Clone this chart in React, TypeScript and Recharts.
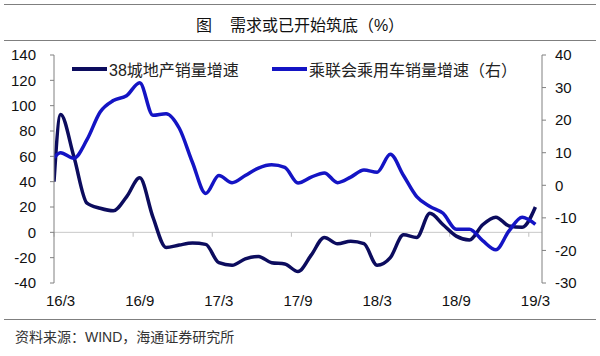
import React from "react";
import { LineChart, Line, XAxis, YAxis, ReferenceLine, Legend } from "recharts";

// month index: 0 = 16/3, 36 = 19/3
const months = [-0.5, 0, 1, 2, 3, 4, 5, 6, 7, 8, 9, 10, 11, 12, 13, 14, 15, 16, 17, 18, 19, 20, 21, 22, 23, 24, 25, 26, 27, 28, 29, 30, 31, 32, 33, 34, 35, 36];
const housing = [40, 93, 60, 23, 19, 17, 28, 43, 12, -12, -10, -8.5, -9.5, -24, -26, -21, -19, -24, -25, -31, -18, -4, -9, -7, -9, -26, -20, -2, -4, 15, 6, -3, -6, 6, 12, 5, 4, 20];
const cars = [8.5, 10, 8.3, 14, 22.5, 26, 27.5, 31.5, 21.5, 22, 17.5, 7, -2.5, 3, 0.8, 3, 5.3, 6.3, 5.5, 0.7, 2.5, 3.8, 0.8, 2.5, 4.7, 4, 9.5, 3, -3.5, -6.5, -8.6, -13.5, -13.5, -17, -19.8, -14, -9.8, -12];

const xTicks = [0, 6, 12, 18, 24, 30, 36];
const xLabels = ["16/3", "16/9", "17/3", "17/9", "18/3", "18/9", "19/3"];
const boundaryTicks = [-0.5, 5.5, 11.5, 17.5, 23.5, 29.5, 35.5];
const leftTicks = [-40, -20, 0, 20, 40, 60, 80, 100, 120, 140];
const rightTicks = [-30, -20, -10, 0, 10, 20, 30, 40];

const seriesNames = ["38城地产销量增速", "乘联会乘用车销量增速（右）"];
const DARK = "#0c0c5e";
const BLUE = "#1414c4";

const data = months.map((m, i) => ({ m, house: housing[i], car: cars[i] }));

const FONT = '"Liberation Sans", "Noto Sans CJK SC", Arial, sans-serif';

const renderLegend = () => (
  <div style={{ position: "relative", width: 600, height: 20, fontFamily: FONT }}>
    {[{ x: 72, c: DARK, t: seriesNames[0] }, { x: 272, c: BLUE, t: seriesNames[1] }].map((it) => (
      <div key={it.t} style={{ position: "absolute", left: it.x, top: 0, height: 20, display: "flex", alignItems: "center" }}>
        <div style={{ width: 35, height: 4, background: it.c }} />
        <span style={{ marginLeft: 2, fontSize: 16, color: "#222", whiteSpace: "nowrap" }}>{it.t}</span>
      </div>
    ))}
  </div>
);

export default function App() {
  return (
    <div style={{ position: "absolute", left: 0, top: 0, width: 600, height: 356, background: "#fff", fontFamily: FONT }}>
      <div style={{ position: "absolute", left: 4, width: 592, top: 4, height: 0, borderTop: "1.5px solid #7f7f7f" }} />
      <div style={{ position: "absolute", left: 0, width: 600, top: 12, height: 20, textAlign: "center", fontSize: 16, color: "#111", whiteSpace: "nowrap" }}>
        <span>图</span>
        <span style={{ marginLeft: 18 }}>需求或已开始筑底（%）</span>
      </div>
      <div style={{ position: "absolute", left: 4, width: 592, top: 40, height: 0, borderTop: "1.5px solid #7f7f7f" }} />
      <LineChart width={600} height={356} data={data} margin={{ top: 55, right: 0, bottom: 43, left: 0 }}>
        <XAxis
          dataKey="m"
          type="number"
          domain={[-0.5, 36.5]}
          ticks={xTicks}
          tickFormatter={(v: number) => xLabels[xTicks.indexOf(v)] ?? ""}
          axisLine={false}
          tickLine={false}
          tickSize={0}
          tickMargin={12}
          height={30}
          interval={0}
          tick={{ fill: "#111", fontSize: 15, fontFamily: FONT }}
          allowDataOverflow
        />
        <YAxis
          yAxisId="left"
          domain={[-40, 140]}
          ticks={leftTicks}
          width={54}
          interval={0}
          axisLine={{ stroke: "#808080", strokeWidth: 1 }}
          tickLine={{ stroke: "#808080", strokeWidth: 1 }}
          tickSize={4}
          tickMargin={14}
          tick={{ fill: "#111", fontSize: 15, fontFamily: FONT }}
          allowDataOverflow
        />
        <YAxis
          yAxisId="right"
          orientation="right"
          domain={[-30, 40]}
          ticks={rightTicks}
          width={58}
          interval={0}
          axisLine={{ stroke: "#808080", strokeWidth: 1 }}
          tickLine={{ stroke: "#808080", strokeWidth: 1 }}
          tickSize={4}
          tickMargin={9}
          tick={{ fill: "#111", fontSize: 15, fontFamily: FONT }}
          allowDataOverflow
        />
        <ReferenceLine yAxisId="left" y={0} stroke="#c8c8c8" strokeWidth={1} />
        {boundaryTicks.map((b) => (
          <ReferenceLine
            key={b}
            yAxisId="left"
            segment={[{ x: b, y: 0 }, { x: b, y: -3.5 }]}
            stroke="#c0c0c0"
            strokeWidth={1}
          />
        ))}
        <Legend
          content={renderLegend}
          verticalAlign="middle"
          align="center"
          layout="horizontal"
          wrapperStyle={{ top: 59, left: 0, width: 600, height: 20 }}
        />
        <Line
          yAxisId="left"
          type="monotone"
          dataKey="house"
          name={seriesNames[0]}
          stroke={DARK}
          strokeWidth={3.5}
          dot={false}
          isAnimationActive={false}
        />
        <Line
          yAxisId="right"
          type="monotone"
          dataKey="car"
          name={seriesNames[1]}
          stroke={BLUE}
          strokeWidth={3.5}
          dot={false}
          isAnimationActive={false}
        />
      </LineChart>
      <div style={{ position: "absolute", left: 4, width: 592, top: 319, height: 0, borderTop: "1.5px solid #7f7f7f" }} />
      <div style={{ position: "absolute", left: 15, top: 326, fontSize: 14, color: "#333", whiteSpace: "nowrap" }}>
        资料来源：WIND，海通证券研究所
      </div>
    </div>
  );
}
